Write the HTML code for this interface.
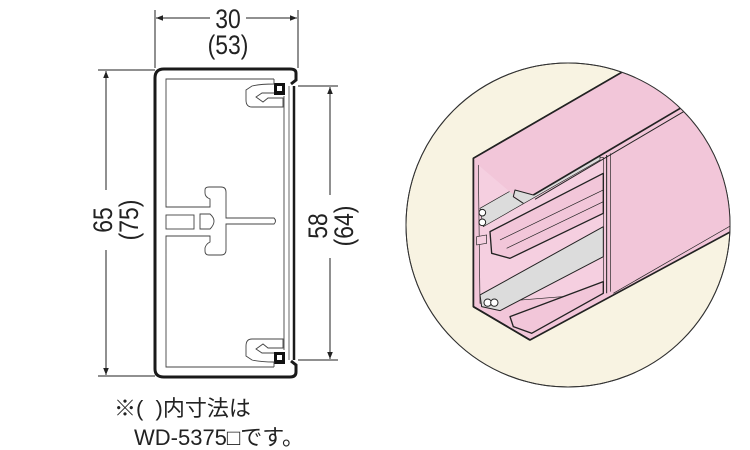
<!DOCTYPE html>
<html><head><meta charset="utf-8"><style>
html,body{margin:0;padding:0;background:#fff;}
body{width:750px;height:450px;overflow:hidden;position:relative;}
svg{position:absolute;left:0;top:0;}
.t{font-family:"Liberation Sans","Noto Sans CJK JP",sans-serif;fill:#222;}
</style></head><body>
<svg width="750" height="450" viewBox="0 0 750 450">
<defs>
<marker id="a" viewBox="0 0 10 10" refX="10" refY="5" markerWidth="9" markerHeight="7" orient="auto-start-reverse" markerUnits="userSpaceOnUse"><path d="M0,1 L10,5 L0,9 Z" fill="#222"/></marker>
<clipPath id="c"><circle cx="568" cy="225" r="162"/></clipPath>
</defs>
<line x1="155" y1="10" x2="155" y2="68" stroke="#222" stroke-width="1"/>
<line x1="298" y1="10" x2="298" y2="68" stroke="#222" stroke-width="1"/>
<line x1="156" y1="18" x2="210" y2="18" stroke="#222" marker-start="url(#a)"/>
<line x1="246" y1="18" x2="297" y2="18" stroke="#222" marker-end="url(#a)"/>
<text class="t" x="228" y="28" font-size="27" text-anchor="middle" transform="translate(228 0) scale(0.85 1) translate(-228 0)">30</text>
<text class="t" x="228" y="54" font-size="27" text-anchor="middle" transform="translate(228 0) scale(0.85 1) translate(-228 0)">(53)</text>
<line x1="98" y1="70" x2="155" y2="70" stroke="#222"/>
<line x1="98" y1="376" x2="155" y2="376" stroke="#222"/>
<line x1="106" y1="71" x2="106" y2="190" stroke="#222" marker-start="url(#a)"/>
<line x1="106" y1="250" x2="106" y2="375" stroke="#222" marker-end="url(#a)"/>
<g transform="translate(112 220) rotate(-90)"><text class="t" x="0" y="0" font-size="27" text-anchor="middle" transform="scale(0.85 1)">65</text></g>
<g transform="translate(138 220) rotate(-90)"><text class="t" x="0" y="0" font-size="27" text-anchor="middle" transform="scale(0.85 1)">(75)</text></g>
<line x1="298" y1="86" x2="338" y2="86" stroke="#222"/>
<line x1="298" y1="360" x2="338" y2="360" stroke="#222"/>
<line x1="330" y1="87" x2="330" y2="195" stroke="#222" marker-start="url(#a)"/>
<line x1="330" y1="258" x2="330" y2="359" stroke="#222" marker-end="url(#a)"/>
<g transform="translate(327 226) rotate(-90)"><text class="t" x="0" y="0" font-size="27" text-anchor="middle" transform="scale(0.85 1)">58</text></g>
<g transform="translate(353 226) rotate(-90)"><text class="t" x="0" y="0" font-size="27" text-anchor="middle" transform="scale(0.85 1)">(64)</text></g>
<path d="M291,84 L296,80 L296,73 Q296,69 290,69 L164,69 Q155,69 155,78 L155,369 Q155,377 164,377 L290,377 Q296,377 296,372 L296,365 L291,361" fill="none" stroke="#1a1a1a" stroke-width="3"/>
<line x1="294" y1="86" x2="294" y2="360" stroke="#1a1a1a" stroke-width="2.5"/>
<line x1="289" y1="86" x2="289" y2="360" stroke="#444" stroke-width="0.8"/>
<rect x="274" y="83" width="11" height="12" fill="#111"/><rect x="277" y="86" width="5" height="5" fill="#fff"/>
<rect x="274" y="352" width="11" height="12" fill="#111"/><rect x="277" y="355" width="5" height="5" fill="#fff"/>
<g fill="none" stroke="#444" stroke-width="0.9">
<path d="M274,79 L166,79 L166,207 L210,207 L210,199 Q205,197 205,193 L205,190 Q205,187 209,187 L221,187 Q226,187 226,192 L226,218 L274,218 Q277,221 274,224 L226,224 L226,250 Q226,255 221,255 L209,255 Q205,255 205,251 L205,248 Q206,244 210,242 L210,236 L166,236 L166,367 L274,367"/>
<path d="M284,96 L284,350"/>
<path d="M274,79 L274,84 Q260,84 252,86 L246,90 L246,100 Q246,107 252,107 L283,107 L283,98 L268,98 L263,102 L256,97 L262,93 L274,93"/>
<path d="M274,367 L274,362 Q260,362 252,360 L246,356 L246,346 Q246,339 252,339 L283,339 L283,348 L268,348 L263,344 L256,349 L262,353 L274,353"/>
<rect x="166" y="215" width="28" height="14"/>
<path d="M200,214 L210,214 Q218,221 210,229 L200,229 Z"/>
</g>
<circle cx="568" cy="225" r="162" fill="#f8f3e2" stroke="#333" stroke-width="1"/>
<g clip-path="url(#c)">
<g transform="translate(400 40) scale(0.3333)" stroke="#222" stroke-linejoin="round">
<polygon points="220,355 1100,-155 1100,517 390,900 220,800" fill="#f2c6d9" stroke-width="5"/>
<polygon points="235,375 610,352 610,760 240,790" fill="#f5cfe0" stroke-width="2"/>
<polygon points="240,505 600,300 600,360 250,560" fill="#dcdcdc" stroke-width="2"/>
<polygon points="270,575 610,400 610,520 330,655 275,640" fill="#f2c6d9" stroke-width="4"/>
<line x1="300" y1="600" x2="610" y2="450" stroke-width="2"/>
<line x1="320" y1="625" x2="610" y2="485" stroke-width="2"/>
<polygon points="240,765 610,560 610,650 300,812 245,800" fill="#dcdcdc" stroke-width="3"/>
<polygon points="330,830 610,725 610,760 395,880 340,860" fill="#f2c6d9" stroke-width="4"/>
<polygon points="230,590 260,585 260,610 230,615" fill="#f5cfe0" stroke-width="2"/>
<circle cx="263" cy="788" r="11" fill="#fff" stroke-width="3"/><circle cx="283" cy="788" r="11" fill="#fff" stroke-width="3"/>
<circle cx="247" cy="518" r="10" fill="#fff" stroke-width="3"/><circle cx="247" cy="547" r="10" fill="#fff" stroke-width="3"/>
<polygon points="220,355 1100,-155 1100,52 400,465 345,450 340,470 370,490 235,375" fill="#f2c6d9" stroke="none"/>
<polyline points="400,465 345,450 340,470 370,490" fill="none" stroke-width="3"/>
<line x1="400" y1="465" x2="1100" y2="52" stroke-width="5"/>
<line x1="405" y1="478" x2="1100" y2="68" stroke-width="3"/>
<line x1="220" y1="355" x2="1100" y2="-155" stroke-width="5"/>
<line x1="620" y1="345" x2="620" y2="760" stroke-width="3"/>
<line x1="632" y1="340" x2="632" y2="755" stroke-width="2"/>
<line x1="640" y1="760" x2="1100" y2="495" stroke-width="2"/>
<line x1="220" y1="355" x2="220" y2="800" stroke-width="5"/>
<line x1="220" y1="800" x2="390" y2="900" stroke-width="5"/>
</g>
</g>
<circle cx="568" cy="225" r="162" fill="none" stroke="#333" stroke-width="1"/>
<text class="t" x="114" y="416" font-size="22">※(&#160;&#160;)内寸法は</text>
<text class="t" x="134" y="445" font-size="22">WD-5375□です。</text>
</svg>
</body></html>
